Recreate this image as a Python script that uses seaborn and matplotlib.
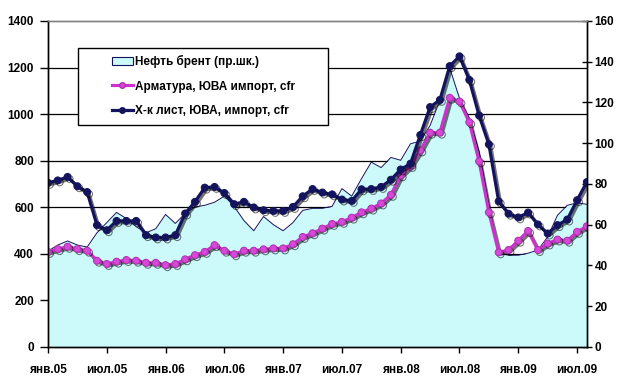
import numpy as np
import pandas as pd
import matplotlib
matplotlib.use('Agg')
import matplotlib.pyplot as plt
import matplotlib.patheffects as pe
from matplotlib.patches import Patch, Rectangle
from matplotlib.lines import Line2D
import seaborn as sns

# monthly data, Jan 2005 .. Aug 2009
tick_labels = ['янв.05', 'июл.05', 'янв.06', 'июл.06', 'янв.07',
               'июл.07', 'янв.08', 'июл.08', 'янв.09', 'июл.09']

# Brent, $/bbl (right axis)
brent = [47, 50, 52, 50, 49, 56, 61, 66, 63, 59, 56, 58,
         65, 60.6, 65.5, 68.7, 69.5, 71, 74, 69, 62, 57, 64, 60,
         57, 61, 67, 68, 68, 69, 77.7, 74, 82.6, 90.7, 88, 93,
         91.6, 99.7, 101, 108.7, 121, 137, 122, 112, 96, 70, 46, 45,
         45, 46, 47.5, 54, 64.6, 69.5, 70.7, 70]

# rebar, SE Asia import, cfr
rebar = [408, 420, 430, 420, 413, 370, 356, 366, 373, 370, 361, 361,
         351, 356, 376, 394, 408, 437, 413, 398, 413, 413, 419, 423,
         423, 441, 472, 488, 508, 528, 537, 555, 578, 594, 616, 653,
         737, 777, 844, 920, 920, 1070, 1054, 965, 797, 578, 406, 416,
         456, 498, 416, 444, 461, 456, 494, 518]

# hot-rolled sheet, SE Asia import, cfr
sheet = [705, 715, 730, 690, 665, 523, 501, 541, 541, 541, 480, 470,
         470, 480, 573, 623, 684, 687, 661, 613, 623, 599, 587, 584,
         584, 601, 647, 678, 663, 655, 633, 627, 677, 678, 687, 718,
         762, 787, 910, 1030, 1061, 1206, 1248, 1147, 994, 870, 625, 572,
         556, 577, 526, 487, 523, 547, 630, 708]

labels = ['Нефть брент (пр.шк.)', 'Арматура, ЮВА импорт, cfr',
          'Х-к лист, ЮВА, импорт, cfr']

df = pd.DataFrame({'month': np.arange(len(brent)), 'brent': brent,
                   'rebar': rebar, 'sheet': sheet})

yellow = '#FFFBC8'
cyan = '#CCFAFA'
magenta = '#CC33CC'
navy = '#14145E'

plt.rcParams['font.family'] = ['Liberation Sans', 'DejaVu Sans']
plt.rcParams['font.weight'] = 'bold'
plt.rcParams['font.size'] = 8.5

fig = plt.figure(figsize=(6.23, 3.88), dpi=100)
ax = fig.add_axes([0.077, 0.106, 0.865, 0.84])
ax2 = ax.twinx()
ax.set_zorder(2)
ax2.set_zorder(1)
ax.patch.set_visible(False)
ax2.patch.set_facecolor(yellow)

left_ticks = list(range(0, 1401, 200))

# oil area on the right axis
ax2.fill_between(df['month'], df['brent'], color=cyan, lw=0, zorder=2)
sns.lineplot(data=df, x='month', y='brent', ax=ax2, color=navy, lw=0.7, zorder=3)
ax2.set_ylim(0, 160)
ax2.set_yticks(range(0, 161, 20))
# gridlines follow the left axis, drawn behind the oil area
ax2.set_yticks([v * 160 / 1400 for v in left_ticks], minor=True)
ax2.grid(axis='y', which='minor', color='black', lw=0.9)
ax2.grid(axis='y', which='major', visible=False)
ax2.tick_params(axis='y', which='minor', length=0)
ax2.set_axisbelow(True)
ax2.set_ylabel('')

shadow = [pe.SimpleLineShadow(offset=(1.4, -1.4), shadow_color='black', alpha=0.55), pe.Normal()]
sns.lineplot(data=df, x='month', y='rebar', ax=ax, color=magenta, lw=2.3,
             marker='o', markersize=5, markerfacecolor='#D848D8',
             markeredgecolor='#B030B0', path_effects=shadow)
sns.lineplot(data=df, x='month', y='sheet', ax=ax, color=navy, lw=2.3,
             marker='o', markersize=5, markerfacecolor=navy,
             markeredgecolor=navy, path_effects=shadow)

ax.set_xlim(0, 55)
ax.set_ylim(0, 1400)
ax.set_yticks(left_ticks)
ax.set_xticks(range(0, 56, 6))
ax.set_xticklabels(tick_labels)
ax.set_xlabel('')
ax.set_ylabel('')

ax.tick_params(axis='y', direction='out', length=6, width=1, pad=4)
ax.tick_params(axis='x', direction='out', length=4, width=1, pad=8)
ax2.tick_params(axis='y', which='major', direction='inout', length=7, width=1, pad=2)
for a in (ax, ax2):
    for s in ('left', 'bottom', 'right'):
        a.spines[s].set_color('black')
        a.spines[s].set_linewidth(1)
    a.spines['top'].set_color('#808080')
    a.spines['top'].set_linewidth(1)

# legend box
ax.add_patch(Rectangle((0.0557, 0.681), 0.4638, 0.236, transform=ax.transAxes,
                       facecolor='white', edgecolor='black', lw=1, zorder=4.5))
handles = [Patch(facecolor=cyan, edgecolor=navy, lw=0.8),
           Line2D([], [], color=magenta, lw=2.3, marker='o', markersize=4,
                  markerfacecolor='#D848D8', markeredgecolor='#B030B0'),
           Line2D([], [], color=navy, lw=2.3, marker='o', markersize=4,
                  markerfacecolor=navy, markeredgecolor=navy)]
ax.legend(handles, labels, loc='upper left', bbox_to_anchor=(0.118, 0.895),
          frameon=False, borderpad=0, borderaxespad=0, handlelength=1.8,
          handletextpad=0.15, labelspacing=1.05, fontsize=8.5)

fig.savefig('out.png', dpi=100, facecolor='white')
